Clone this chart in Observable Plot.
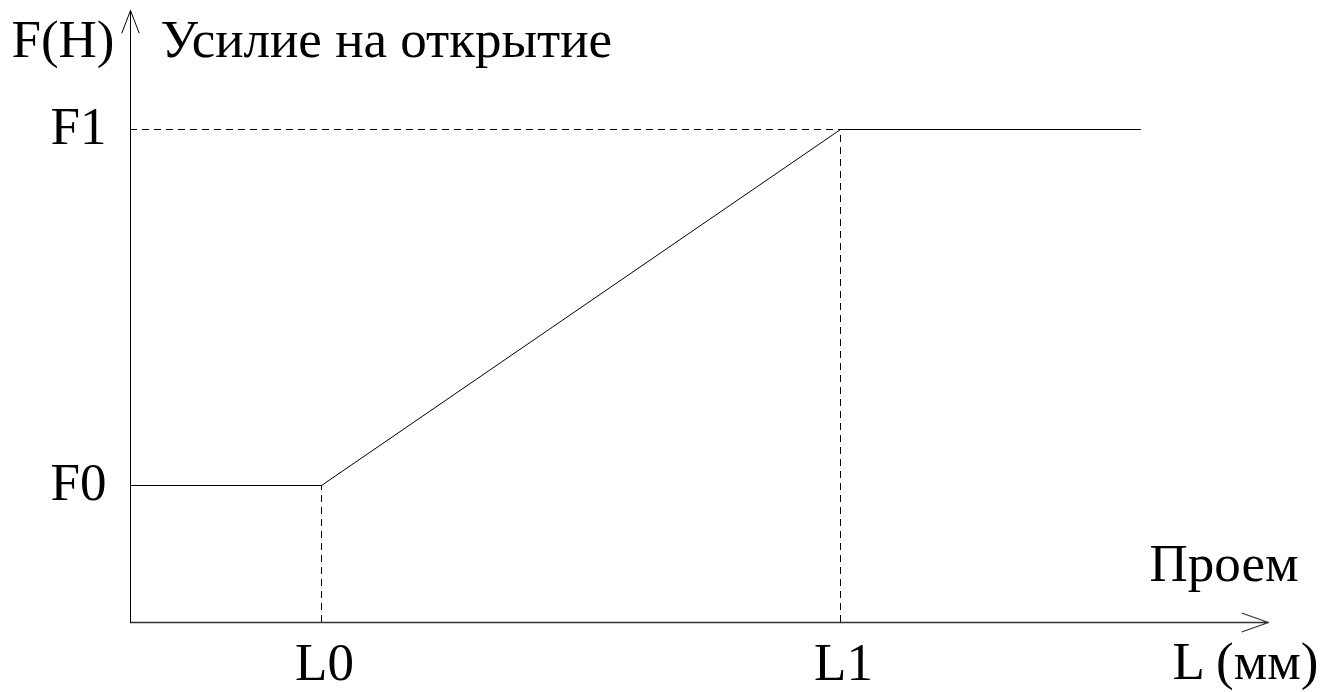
<!DOCTYPE html>
<html><head><meta charset="utf-8">
<script src="https://cdn.jsdelivr.net/npm/d3@7"></script>
<script src="https://cdn.jsdelivr.net/npm/@observablehq/plot@0.6"></script>
<style>
body{margin:0;background:#fff}
svg{font-family:"Liberation Serif","Times New Roman",serif}
</style>
</head><body><div id="chart"></div>
<script>
// Schematic break points (arbitrary units)
const xKeys = ["L0", "L1"];
const xVals = [1.91, 7.10];
const yKeys = ["F0", "F1"];
const yVals = [1.37, 4.93];
const curveX = [0, 1.91, 7.10, 10.10];
const curveY = [1.37, 1.37, 4.93, 4.93];
const xAxisEnd = 11.38;
const yAxisEnd = 6.12;
const yTitle = "F(H)";
const yDesc = "Усилие на открытие";
const xTitle = "L (мм)";
const xDesc = "Проем";

const curve = curveX.map((x, i) => ({x, y: curveY[i]}));
const xLabel = new Map(xVals.map((v, i) => [v, xKeys[i]]));
const yLabel = new Map(yVals.map((v, i) => [v, yKeys[i]]));
const vDash = xVals.map((x, i) => ({x, y: yVals[i]}));

const FS = 53;
const chart = Plot.plot({
  width: 1334, height: 692,
  marginLeft: 130, marginRight: 66, marginTop: 8, marginBottom: 70,
  x: {domain: [0, xAxisEnd]},
  y: {domain: [0, 6.14]},
  style: {fontFamily: '"Liberation Serif","Times New Roman",serif', background: "#fff"},
  marks: [
    Plot.axisX({ticks: xVals, tickFormat: d => xLabel.get(d), tickSize: 0, tickPadding: 20, fontSize: FS, label: null, dx: 3}),
    Plot.axisY({ticks: yVals, tickFormat: d => yLabel.get(d), tickSize: 0, tickPadding: 24, fontSize: FS, label: null, dy: -2}),
    // dashed guides
    Plot.ruleX(vDash, {x: "x", y1: 0, y2: "y", stroke: "#000", strokeWidth: 1, strokeDasharray: "7,5"}),
    Plot.ruleY([yVals[1]], {x1: 0, x2: xVals[1], stroke: "#000", strokeWidth: 1, strokeDasharray: "7,5"}),
    // curve
    Plot.line(curve, {x: "x", y: "y", stroke: "#000", strokeWidth: 1}),
    // axes with arrows
    Plot.arrow([{x1: 0, y1: 0, x2: xAxisEnd, y2: 0}], {x1: "x1", y1: "y1", x2: "x2", y2: "y2", stroke: "#333", strokeWidth: 1.3, headLength: 32, headAngle: 39}),
    Plot.arrow([{x1: 0, y1: 0, x2: 0, y2: yAxisEnd}], {x1: "x1", y1: "y1", x2: "x2", y2: "y2", stroke: "#000", strokeWidth: 1, headLength: 36, headAngle: 42}),
    // titles
    Plot.text([yTitle], {x: 0, y: yAxisEnd, text: d => d, textAnchor: "end", dx: -16, dy: 30, fontSize: FS}),
    Plot.text([yDesc], {x: 0, y: yAxisEnd, text: d => d, textAnchor: "start", dx: 30, dy: 30, fontSize: FS}),
    Plot.text([xDesc], {x: xAxisEnd, y: 0, text: d => d, textAnchor: "end", dx: 30, dy: -58, fontSize: FS}),
    Plot.text([xTitle], {x: xAxisEnd, y: 0, text: d => d, textAnchor: "end", dx: 50, dy: 40, fontSize: FS})
  ]
});
document.getElementById("chart").append(chart);
</script>
</body></html>
